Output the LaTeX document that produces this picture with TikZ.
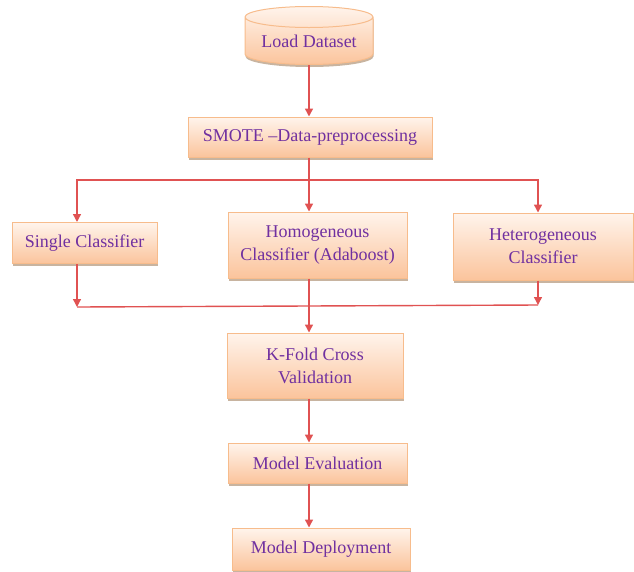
\documentclass[tikz,border=0pt]{standalone}
\usepackage{fontspec}
\setmainfont{Liberation Serif}
\usetikzlibrary{shapes.geometric,shadows,arrows.meta}
\definecolor{txtpurple}{HTML}{7030A0}
\definecolor{lnred}{HTML}{E05252}
\definecolor{boxedge}{HTML}{F7BC8C}
\definecolor{boxtop}{HTML}{FFF4EC}
\definecolor{boxbot}{HTML}{FBC49C}
\begin{document}
\begin{tikzpicture}[x=1pt, y=1pt,
        proc/.style={rectangle, draw=boxedge, line width=1pt, top color=boxtop, bottom color=boxbot,
            text=txtpurple, font=\fontsize{18}{23}\selectfont, align=center, inner sep=0pt,
            drop shadow={shadow xshift=0.5pt, shadow yshift=-2.5pt, fill=brown!70!black, opacity=0.45}},
        store/.style={proc, cylinder, shape border rotate=90, shape aspect=0.22},
        flow/.style={draw=lnred, line width=1.4pt, >={Triangle[length=8pt, width=8pt]}}
    ]
        \useasboundingbox (0,0) rectangle (634,-571);

        % Nodes
        \node[store, minimum width=128, minimum height=58] (load) at (309,-41) {Load Dataset};
        \node[proc, minimum width=244, minimum height=40] (smote) at (310,-137) {SMOTE --Data-preprocessing};
        \node[proc, minimum width=145, minimum height=41] (single) at (84.5,-243) {Single Classifier};
        \node[proc, minimum width=179, minimum height=66] (homo) at (317.5,-245) {Homogeneous\\Classifier (Adaboost)};
        \node[proc, minimum width=180, minimum height=67] (hetero) at (543,-246.5) {Heterogeneous\\Classifier};
        \node[proc, minimum width=176, minimum height=65] (kfold) at (315,-365.5) {K-Fold Cross\\Validation};
        \node[proc, minimum width=179, minimum height=40] (eval) at (317.5,-463) {Model Evaluation};
        \node[proc, minimum width=178, minimum height=42] (deploy) at (321,-549) {Model Deployment};

        % Junctions
        \coordinate (split) at (309,-180);
        \coordinate (splitL) at (77,-180);
        \coordinate (splitR) at (538,-180);
        \coordinate (merge) at (309,-306);
        \coordinate (mergeL) at (77,-307);
        \coordinate (mergeR) at (538,-305);

        % Edges
        \draw[flow, ->] (load.south -| split) -- (smote.north -| split);
        \draw[flow] (smote.south -| split) -- (split);
        \draw[flow, ->] (split) -- (homo.north -| split);
        \draw[flow, ->] (split) -- (splitL) -- (single.north -| splitL);
        \draw[flow, ->] (split) -- (splitR) -- (hetero.north -| splitR);
        \draw[flow, ->] (single.south -| mergeL) -- (mergeL);
        \draw[flow, ->] (hetero.south -| mergeR) -- (mergeR);
        \draw[flow] (mergeL) -- (mergeR);
        \draw[flow, ->] (homo.south -| merge) -- (kfold.north -| merge);
        \draw[flow, ->] (kfold.south -| merge) -- (eval.north -| merge);
        \draw[flow, ->] (eval.south -| merge) -- (deploy.north -| merge);

    \end{tikzpicture}
\end{document}
